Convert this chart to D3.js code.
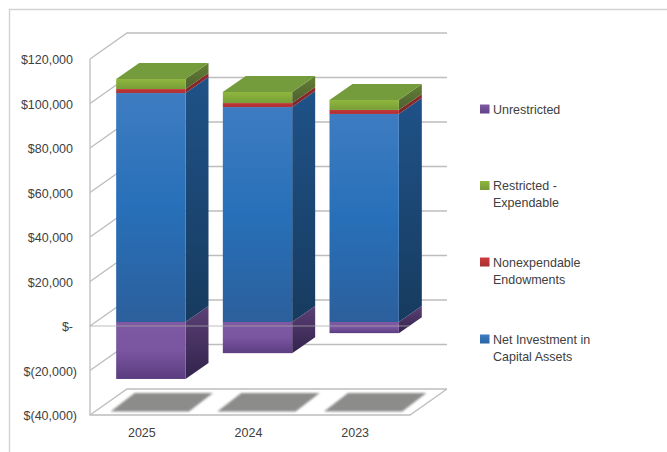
<!DOCTYPE html>
<html>
<head>
<meta charset="utf-8">
<script src="https://cdn.jsdelivr.net/npm/d3@7/dist/d3.min.js"></script>
<style>
html,body{margin:0;padding:0;background:#fff}
svg{display:block}
text{font-family:"Liberation Sans",Arial,sans-serif;font-size:13.5px;fill:#404040}
</style>
</head>
<body>
<svg id="chart" width="667" height="452"></svg>
<script>
// Net asset composition by fiscal year
const years = ["2025", "2024", "2023"];
const netInvestment = [102900, 96600, 93500];
const nonexpendable = [1800, 1800, 1800];
const restricted = [4500, 5000, 4500];
const unrestricted = [-25600, -14000, -5000];
const axisTicks = [120000, 100000, 80000, 60000, 40000, 20000, 0, -20000, -40000];
const legendLabels = [
  ["Unrestricted"],
  ["Restricted -", "Expendable"],
  ["Nonexpendable", "Endowments"],
  ["Net Investment in", "Capital Assets"]
];
const legendKeys = ["purple", "green", "red", "blue"];
const legendRows = [109, 185.5, 262, 339];

const palette = {
  blue:   {front: ["#3e7cc1", "#2770b9", "#2c5f9c"], side: ["#1f5288", "#173b5f"], legend: ["#3f7dc2", "#2a64a6"]},
  red:    {front: ["#c9393c", "#b33236", "#b33236"], side: ["#8f2b2c", "#7d2526"], legend: ["#cf3d3f", "#a52e30"]},
  green:  {front: ["#8fb63d", "#84ab3a", "#779d38"], side: ["#647f33", "#4d6030"], legend: ["#8fb63d", "#76983a"]},
  purple: {front: ["#7f5aa3", "#7a55a0", "#5b3d80"], side: ["#5c4076", "#32234c"], legend: ["#7f5aa3", "#5f4287"]}
};
const topFace = "#759c3c";

const svg = d3.select("#chart");
const defs = svg.append("defs");

// Vertical gradients for the faces of each series
function addGradient(id, stops) {
  const g = defs.append("linearGradient").attr("id", id)
    .attr("x1", 0).attr("y1", 0).attr("x2", 0).attr("y2", 1);
  stops.forEach((c, i) => g.append("stop")
    .attr("offset", i / (stops.length - 1)).attr("stop-color", c));
}
Object.entries(palette).forEach(([k, p]) => {
  addGradient("front-" + k, p.front);
  addGradient("side-" + k, p.side);
  addGradient("legend-" + k, p.legend);
});
defs.append("filter").attr("id", "soft")
  .attr("x", "-5%").attr("y", "-10%").attr("width", "110%").attr("height", "120%")
  .append("feGaussianBlur").attr("stdDeviation", 0.8);

// Scales on the front plane of the chart box
const x = d3.scaleBand().domain(years).range([90, 410])
  .paddingInner(0.35).paddingOuter(0.175);
const y = d3.scaleLinear().domain([-40000, 120000]).range([415, 59]);

// Box depth and placement of the columns inside it
const wall = {dx: 37, dy: -26};
const inset = {dx: 7.5, dy: -4};
const depth = {dx: 23, dy: -16};

const gridColor = "#bdbdbd";
const poly = pts => "M" + pts.map(p => p.join(",")).join("L") + "Z";

// Outer frame
svg.append("path")
  .attr("d", "M667,9.5H9.5V452")
  .attr("fill", "none").attr("stroke", "#d2d2d2").attr("stroke-width", 1.4);

// Back wall gridlines and their diagonals along the side wall
const grid = svg.append("g").attr("fill", "none")
  .attr("stroke", gridColor).attr("stroke-width", 1.3);
axisTicks.forEach(t => {
  grid.append("path").attr("d", d3.line()([
    [x.range()[0], y(t)],
    [x.range()[0] + wall.dx, y(t) + wall.dy],
    [x.range()[1] + wall.dx, y(t) + wall.dy]
  ]));
});
// Left edge, floor front and floor right edge
grid.append("path").attr("d", d3.line()([
  [x.range()[0], y(120000)],
  [x.range()[0], y(-40000)],
  [x.range()[1], y(-40000)],
  [x.range()[1] + wall.dx, y(-40000) + wall.dy]
]));

// Column shadows lying on the floor
const floorY = y(-40000);
svg.append("g").selectAll("path").data(years).join("path")
  .attr("d", yr => {
    const l = x(yr) + 2;
    const w = x.bandwidth() + 9;
    return poly([[l, floorY - 3.5], [l + w, floorY - 3.5], [l + w + 24, floorY - 22], [l + 24, floorY - 22]]);
  })
  .attr("fill", "#8c8c8b").attr("filter", "url(#soft)");

// Stacked columns
function drawBlock(g, yr, lo, hi, key) {
  const l = x(yr) + inset.dx, r = l + x.bandwidth();
  const yLo = y(lo) + inset.dy, yHi = y(hi) + inset.dy;
  g.append("path").attr("fill", `url(#side-${key})`).attr("d", poly([
    [r, yHi], [r + depth.dx, yHi + depth.dy], [r + depth.dx, yLo + depth.dy], [r, yLo]
  ]));
  g.append("rect").attr("x", l).attr("y", yHi)
    .attr("width", r - l).attr("height", yLo - yHi)
    .attr("fill", `url(#front-${key})`);
}

const columns = svg.append("g");
years.forEach((yr, i) => {
  const g = columns.append("g");
  const a = netInvestment[i];
  const b = a + nonexpendable[i];
  const c = b + restricted[i];
  drawBlock(g, yr, unrestricted[i], 0, "purple");
  drawBlock(g, yr, 0, a, "blue");
  drawBlock(g, yr, a, b, "red");
  drawBlock(g, yr, b, c, "green");
  const l = x(yr) + inset.dx, r = l + x.bandwidth(), t = y(c) + inset.dy;
  g.append("path").attr("fill", topFace).attr("d", poly([
    [l, t], [r, t], [r + depth.dx, t + depth.dy], [l + depth.dx, t + depth.dy]
  ]));
});

// Zero line passing in front of the columns
svg.append("line")
  .attr("x1", x.range()[0]).attr("x2", x.range()[1])
  .attr("y1", y(0)).attr("y2", y(0))
  .attr("stroke", "#a8a8a8").attr("stroke-opacity", 0.75).attr("stroke-width", 1.2);

// Value axis in accounting format
const money = d3.format(",");
const accounting = v => v === 0 ? "$-" : v < 0 ? `$(${money(-v)})` : `$${money(v)}`;
const yAxis = svg.append("g").attr("transform", "translate(73,0)")
  .call(d3.axisLeft(y).tickValues(axisTicks).tickFormat(accounting).tickSize(0).tickPadding(0));
yAxis.select(".domain").remove();
yAxis.selectAll("text")
  .attr("dx", d => d < 0 ? 4 : 0)
  .attr("dy", "0.36em");

// Category axis
const xAxis = svg.append("g").attr("transform", "translate(-1.5,432)")
  .call(d3.axisBottom(x).tickSize(0).tickPadding(0));
xAxis.select(".domain").remove();
xAxis.selectAll("text").attr("dy", "0.36em").attr("y", 0);

// Legend
const legend = svg.append("g");
legendLabels.forEach((lines, i) => {
  const cy = legendRows[i];
  legend.append("rect").attr("x", 480).attr("y", cy - 4.5)
    .attr("width", 9.5).attr("height", 9)
    .attr("fill", `url(#legend-${legendKeys[i]})`);
  lines.forEach((s, j) => legend.append("text")
    .attr("x", 493).attr("y", cy + j * 17).attr("dy", "0.36em").text(s));
});

// All labels use a slightly condensed letterform
svg.selectAll("text").each(function () {
  d3.select(this)
    .attr("lengthAdjust", "spacingAndGlyphs")
    .attr("textLength", this.getComputedTextLength() * 0.925);
});
</script>
</body>
</html>
